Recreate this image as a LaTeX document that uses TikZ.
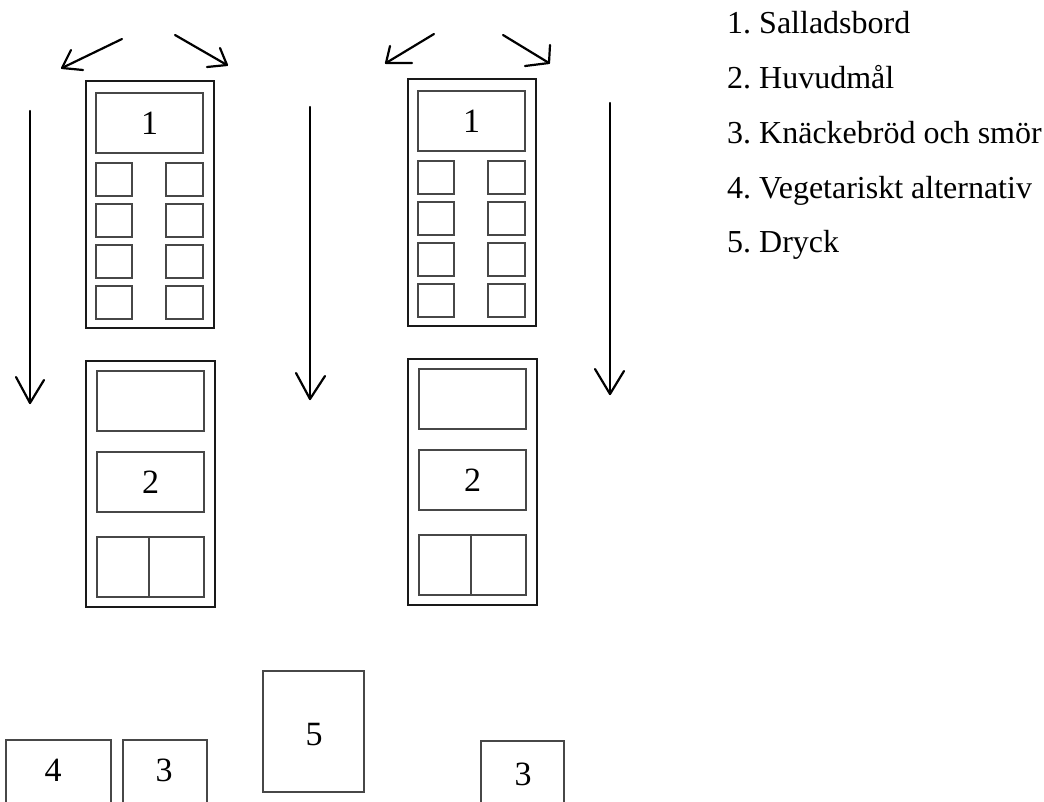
\documentclass[tikz,border=0pt]{standalone}
\usepackage{fontspec}
\setmainfont{Liberation Serif}
\frenchspacing
\begin{document}
\begin{tikzpicture}[x=1pt,y=-1pt,
  outerbox/.style={draw=black!90, line width=1.6pt, inner sep=0pt, outer sep=0pt},
  innerbox/.style={draw=black!72, line width=1.8pt, inner sep=0pt, outer sep=0pt,
                   font=\fontsize{34}{34}\selectfont},
  numtext/.style={inner sep=0pt, font=\fontsize{34}{34}\selectfont},
  legend/.style={anchor=base west, inner sep=0pt, font=\fontsize{32}{32}\selectfont},
  hand/.style={draw=black, line width=2.2pt, line cap=round, line join=round},
  buffetline/.pic={
    % salad table with its row of plates
    \node[outerbox, minimum width=128, minimum height=247] (-salad) at (64,123.5) {};
    \node[innerbox, minimum width=107, minimum height=60] (-one) at (63.5,42) {1};
    \foreach \r [count=\i] in {98.5,139.5,180.5,221.5} {
      \node[innerbox, minimum width=36, minimum height=33] (-l\i) at (28,\r) {};
      \node[innerbox, minimum width=37, minimum height=33] (-r\i) at (98.5,\r) {};
    }
    % main course table
    \node[outerbox, minimum width=129, minimum height=246] (-main) at (64.5,403) {};
    \node[innerbox, minimum width=107, minimum height=60] (-empty) at (64.5,320) {};
    \node[innerbox, minimum width=107, minimum height=60] (-two) at (64.5,401) {2};
    \node[innerbox, minimum width=52, minimum height=60] (-pl) at (37,486) {};
    \node[innerbox, minimum width=55, minimum height=60] (-pr) at (90.5,486) {};
  }
]
\useasboundingbox (0,0) rectangle (1044,802);
\clip (0,0) rectangle (1044,802);

% two serving lines
\pic (L) at (86,81) {buffetline};
\pic (R) at (408,79) {buffetline};

% hand drawn flow arrows at the top
\coordinate (t1s) at (122,39);  \coordinate (t1t) at (62,68);
\draw[hand] (t1s) -- (t1t);
\draw[hand] (71,50) -- (t1t) -- (83,70);
\coordinate (t2s) at (175,35);  \coordinate (t2t) at (227,65);
\draw[hand] (t2s) -- (t2t);
\draw[hand] (220,48) -- (t2t) -- (207,67);
\coordinate (t3s) at (434,34);  \coordinate (t3t) at (386,63);
\draw[hand] (t3s) -- (t3t);
\draw[hand] (390,46) -- (t3t) -- (412,63);
\coordinate (t4s) at (503,35);  \coordinate (t4t) at (549,63);
\draw[hand] (t4s) -- (t4t);
\draw[hand] (550,45) -- (t4t) -- (525,66);

% downward arrows beside the tables
\coordinate (v1s) at (30,111);  \coordinate (v1t) at (30,403);
\draw[hand] (v1s) -- (v1t);
\draw[hand] (16,377) -- (v1t) -- (44,380);
\coordinate (v2s) at (310,107); \coordinate (v2t) at (310,399);
\draw[hand] (v2s) -- (v2t);
\draw[hand] (296,373) -- (v2t) -- (325,376);
\coordinate (v3s) at (610,103); \coordinate (v3t) at (610,394);
\draw[hand] (v3s) -- (v3t);
\draw[hand] (595,369) -- (v3t) -- (624,371);

% side tables at the bottom
\node[innerbox, minimum width=105, minimum height=80] (veg) at (58.5,780) {};
\node[numtext] (vegnum) at (53,770) {4};
\node[innerbox, minimum width=84, minimum height=80] (bread1) at (165,780) {};
\node[numtext] (bread1num) at (164,770) {3};
\node[innerbox, minimum width=101, minimum height=121] (drink) at (313.5,731.5) {};
\node[numtext] (drinknum) at (314,735) {5};
\node[innerbox, minimum width=83, minimum height=80] (bread2) at (522.5,781) {};
\node[numtext] (bread2num) at (523,774) {3};

% legend
\node[legend] (k1) at (727,34)     {1. Salladsbord};
\node[legend] (k2) at (727,88.75)  {2. Huvudmål};
\node[legend] (k3) at (727,143.5)  {3. Knäckebröd och smör};
\node[legend] (k4) at (727,198.25) {4. Vegetariskt alternativ};
\node[legend] (k5) at (727,253)    {5. Dryck};
\end{tikzpicture}
\end{document}
